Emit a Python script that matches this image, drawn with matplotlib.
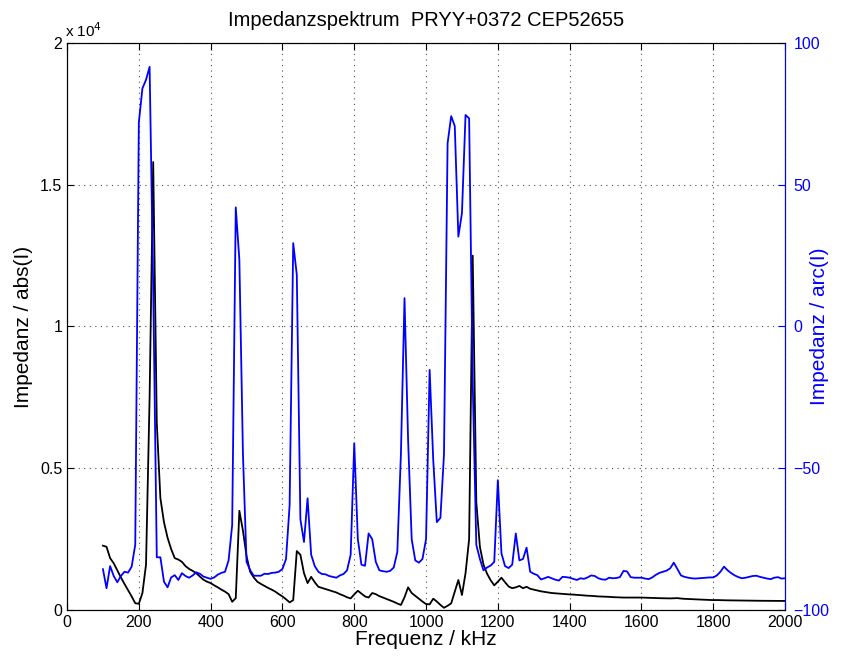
import numpy as np
import matplotlib
matplotlib.use('Agg')
import matplotlib.pyplot as plt
from matplotlib.ticker import FuncFormatter

plt.rcParams['font.family'] = ['Liberation Sans', 'DejaVu Sans']

# frequency axis in kHz, 10 kHz steps
freq = np.arange(100, 2001, 10)

# impedance magnitude abs(I)
imp_abs = [
    2270, 2230, 1830, 1650, 1400, 1150, 920, 700, 480, 240,        # 100-190
    220, 600, 1600, 7500, 15800, 6600, 3950, 3100, 2550, 2150,     # 200-290
    1830, 1780, 1700, 1550, 1450, 1380, 1300, 1180, 1070, 1000,    # 300-390
    950, 870, 800, 720, 650, 560, 290, 420, 3500, 2800,            # 400-490
    1900, 1350, 1150, 1000, 920, 850, 780, 720, 650, 560,          # 500-590
    480, 380, 270, 350, 2080, 1950, 1300, 950, 1170, 980,          # 600-690
    820, 780, 740, 700, 660, 620, 560, 510, 450, 410,              # 700-790
    550, 680, 580, 480, 440, 600, 560, 490, 440, 390,              # 800-890
    340, 290, 230, 180, 450, 800, 600, 500, 400, 300,              # 900-990
    210, 200, 400, 300, 180, 80, 150, 235, 650, 1060,              # 1000-1090
    530, 1300, 2500, 12500, 3800, 2230, 1600, 1280, 1050, 870,     # 1100-1190
    1000, 1140, 980, 830, 770, 800, 850, 770, 820, 750,            # 1200-1290
    720, 690, 660, 640, 620, 600, 590, 580, 570, 560,              # 1300-1390
    550, 545, 535, 525, 515, 505, 500, 490, 480, 475,              # 1400-1490
    470, 465, 455, 450, 445, 440, 440, 440, 440, 440,              # 1500-1590
    440, 435, 430, 425, 420, 418, 415, 413, 410, 415,              # 1600-1690
    420, 405, 395, 390, 385, 378, 372, 366, 360, 355,              # 1700-1790
    350, 352, 348, 345, 342, 340, 338, 336, 334, 332,              # 1800-1890
    330, 329, 328, 327, 326, 325, 324, 323, 322, 321,              # 1900-1990
    320,                                                           # 2000
]

# impedance phase arc(I)
imp_arc = [
    -85.6, -92.3, -84.5, -88.0, -90.2, -88.0, -86.5, -86.8, -84.7, -77.0,   # 100-190
    72.0, 84.0, 87.0, 91.6, 14.0, -81.4, -81.4, -90.0, -92.0, -88.5,        # 200-290
    -87.7, -89.4, -87.0, -88.0, -88.6, -87.8, -86.7, -87.2, -88.2, -88.6,   # 300-390
    -89.0, -88.5, -87.5, -86.9, -86.5, -82.5, -70.0, 42.0, 23.5, -45.0,     # 400-490
    -83.0, -85.9, -87.9, -87.9, -87.9, -87.2, -87.3, -86.9, -86.8, -86.5,   # 500-590
    -85.5, -82.0, -63.0, 29.4, 18.2, -68.0, -76.0, -60.6, -80.5, -84.5,     # 600-690
    -86.5, -87.3, -87.4, -88.0, -88.3, -88.6, -87.8, -87.3, -86.0, -80.5,   # 700-790
    -41.2, -75.0, -84.0, -84.4, -73.0, -75.0, -83.0, -86.0, -86.3, -86.5,   # 800-890
    -86.2, -85.0, -79.5, -45.0, 10.0, -40.0, -75.0, -82.5, -83.3, -82.0,    # 900-990
    -75.0, -15.3, -47.0, -69.0, -67.5, -45.0, 64.6, 74.2, 70.7, 31.7,       # 1000-1090
    40.0, 74.6, 73.4, -20.0, -77.0, -82.0, -86.0, -85.0, -84.3, -83.0,      # 1100-1190
    -54.2, -80.0, -84.5, -85.2, -84.0, -73.0, -82.5, -82.0, -78.0, -86.5,   # 1200-1290
    -87.2, -87.7, -89.2, -88.8, -88.3, -88.8, -89.3, -89.6, -88.3, -88.4,   # 1300-1390
    -88.6, -89.0, -89.4, -88.8, -89.0, -88.5, -87.8, -88.0, -88.8, -89.2,   # 1400-1490
    -89.3, -88.6, -88.8, -88.7, -88.4, -86.2, -86.4, -88.4, -88.6, -88.6,   # 1500-1590
    -88.6, -88.9, -89.1, -88.5, -87.6, -86.9, -86.5, -86.1, -85.3, -83.3,   # 1600-1690
    -85.5, -87.8, -88.3, -88.6, -88.8, -88.9, -88.8, -88.7, -88.6, -88.5,   # 1700-1790
    -88.5, -87.8, -86.5, -84.7, -86.0, -87.0, -87.8, -88.4, -88.8, -88.6,   # 1800-1890
    -88.3, -88.0, -87.9, -88.3, -88.6, -88.9, -89.1, -88.6, -88.4, -88.9,   # 1900-1990
    -88.8,                                                                  # 2000
]

fig = plt.figure(figsize=(8.55, 6.58), dpi=100)
ax = fig.add_axes([0.0784, 0.0729, 0.8398, 0.8618])

ax.plot(freq, imp_abs, color='k', lw=1.3)
ax.set_xlim(0, 2000)
ax.set_ylim(0, 20000)
ax.set_xticks(np.arange(0, 2001, 200))
ax.set_yticks(np.arange(0, 20001, 5000))
ax.yaxis.set_major_formatter(FuncFormatter(lambda v, p: '%g' % (v / 1e4)))
ax.grid(True, linestyle=(0, (1, 4)), color='0.3', lw=0.8)
ax.tick_params(direction='in', labelsize=11.5, length=5, top=True)
ax.set_xlabel('Frequenz / kHz', fontsize=15, labelpad=0)
ax.set_ylabel('Impedanz / abs(I)', fontsize=15)
ax.yaxis.set_label_coords(-0.048, 0.5)
ax.set_title('Impedanzspektrum  PRYY+0372 CEP52655', fontsize=14.5, pad=12)
ax.text(-0.003, 1.006, r'x 10$^{4}$', transform=ax.transAxes, fontsize=11,
        ha='left', va='bottom')

ax2 = ax.twinx()
ax2.plot(freq, imp_arc, color='b', lw=1.3)
ax2.set_ylim(-100, 100)
ax2.set_yticks([-100, -50, 0, 50, 100])
ax2.tick_params(direction='in', labelsize=11.5, length=5, colors='b', pad=6)
ax2.spines['right'].set_color('b')
ax2.set_ylabel('Impedanz / arc(I)', fontsize=15, color='b')
ax2.yaxis.set_label_coords(1.035, 0.5)

fig.savefig('out.png', dpi=100)
